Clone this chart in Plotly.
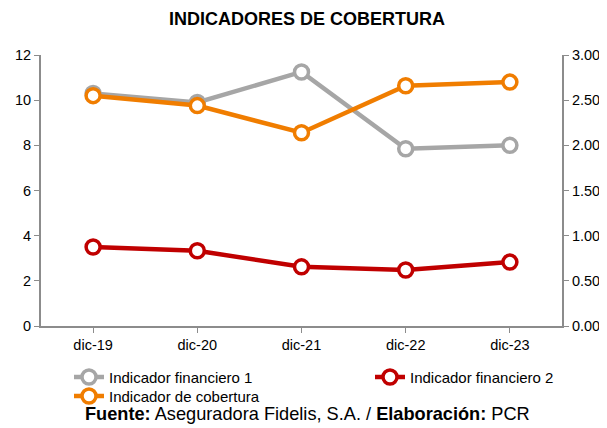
import plotly.graph_objects as go

categories = ["dic-19", "dic-20", "dic-21", "dic-22", "dic-23"]
fin1 = [10.3, 9.9, 11.25, 7.85, 8.0]          # left axis
fin2 = [3.5, 3.33, 2.62, 2.48, 2.83]          # left axis
cobertura = [2.55, 2.44, 2.14, 2.66, 2.70]    # right axis

left_ticks = [0, 2, 4, 6, 8, 10, 12]
right_ticks = [0, 0.5, 1.0, 1.5, 2.0, 2.5, 3.0]
right_ticktext = ["0.00", "0.50", "1.00", "1.50", "2.00", "2.50", "3.00"]

FONT = "Liberation Sans, Arial, sans-serif"
W, H = 599, 420

def trace(name, y, color, axis, legend):
    return go.Scatter(
        x=categories, y=y, name=name, mode="lines+markers", yaxis=axis,
        legend=legend,
        line=dict(color=color, width=4.5),
        marker=dict(symbol="circle", size=14, color="white",
                    line=dict(color=color, width=3.5)),
    )

fig = go.Figure()
fig.add_trace(trace("Indicador financiero 1", fin1, "#A6A6A6", "y", "legend"))
fig.add_trace(trace("Indicador financiero 2", fin2, "#C00000", "y", "legend2"))
fig.add_trace(trace("Indicador de cobertura", cobertura, "#F07D00", "y2", "legend3"))

axis_line = "#8C8C8C"
leg_common = dict(orientation="h", xref="container", yref="container",
                  xanchor="left", yanchor="top", font=dict(size=15),
                  bgcolor="rgba(0,0,0,0)")
fig.update_layout(
    width=W, height=H,
    margin=dict(l=33, r=45, t=47, b=102, autoexpand=False),
    paper_bgcolor="white", plot_bgcolor="white",
    font=dict(family=FONT, size=14.5, color="#000000"),
    title=dict(text="<b>INDICADORES DE COBERTURA</b>", x=299 / W, xanchor="center",
               y=1 - 11 / H, yanchor="middle", font=dict(size=18, family=FONT)),
    xaxis=dict(type="category", range=[-0.5, 4.5], showgrid=False,
               showline=True, linecolor=axis_line, linewidth=2,
               ticks="outside", ticklen=5, tickcolor=axis_line,
               automargin=False),
    yaxis=dict(range=[0, 12], tickvals=left_ticks, showgrid=False,
               showline=True, linecolor=axis_line, linewidth=2,
               ticks="outside", ticklen=5, tickcolor=axis_line,
               zeroline=False, automargin=False),
    yaxis2=dict(range=[0, 3], tickvals=right_ticks, ticktext=right_ticktext,
                overlaying="y", side="right", showgrid=False,
                showline=True, linecolor=axis_line, linewidth=2,
                ticks="outside", ticklen=5, tickcolor=axis_line,
                zeroline=False, automargin=False),
    legend=dict(x=61 / W, y=0.160, **leg_common),
    legend2=dict(x=362 / W, y=0.160, **leg_common),
    legend3=dict(x=61 / W, y=0.115, **leg_common),
    showlegend=True,
)
fig.add_annotation(
    text="<b>Fuente:</b> Aseguradora Fidelis, S.A. / <b>Elaboración:</b> PCR",
    xref="paper", yref="paper", x=(299 - 33) / 521, y=-0.325,
    xanchor="center", yanchor="middle",
    showarrow=False, font=dict(size=18.2, family=FONT),
)

fig.write_html("out.html")
